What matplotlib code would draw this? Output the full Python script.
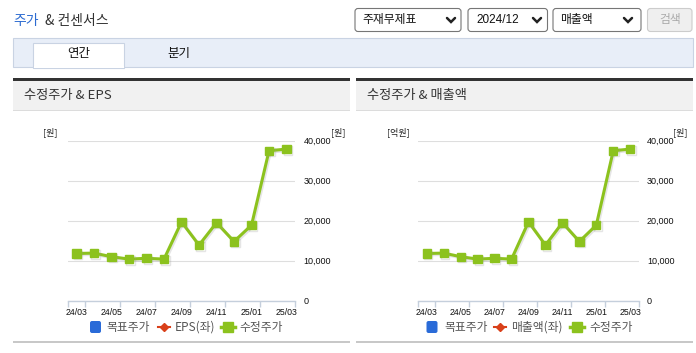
import matplotlib
matplotlib.use("Agg")
import matplotlib.pyplot as plt
import matplotlib.patheffects as pe
from matplotlib.patches import Rectangle, FancyBboxPatch
from matplotlib.ticker import FuncFormatter

plt.rcParams['font.family'] = ['Noto Sans CJK KR', 'DejaVu Sans']

# data
months = ['24/03', '24/04', '24/05', '24/06', '24/07', '24/08', '24/09',
          '24/10', '24/11', '24/12', '25/01', '25/02', '25/03']
price = [11800, 11900, 11000, 10400, 10600, 10400, 19700,
         13900, 19500, 14800, 18900, 37500, 37900]
yticks = [0, 10000, 20000, 30000, 40000]

W, H = 696, 353
GREEN = '#8cc21e'
RED = '#d9401a'
BLUE = '#2a6bd8'
NUM = ['Liberation Sans', 'DejaVu Sans']

fig = plt.figure(figsize=(W / 100, H / 100), dpi=100)
bg = fig.add_axes([0, 0, 1, 1])
bg.set_xlim(0, W)
bg.set_ylim(H, 0)
bg.axis('off')


def rect(x0, y0, x1, y1, fc, ec='none', lw=0, z=1):
    bg.add_patch(Rectangle((x0, y0), x1 - x0, y1 - y0, fc=fc, ec=ec, lw=lw, zorder=z))


def rbox(x0, y0, x1, y1, fc, ec):
    bg.add_patch(FancyBboxPatch((x0, y0), x1 - x0, y1 - y0,
                                boxstyle='round,pad=0,rounding_size=3',
                                fc=fc, ec=ec, lw=0.8, zorder=2))


def chevron(x, y):
    bg.plot([x - 4, x, x + 4], [y - 2, y + 2, y - 2], color='#222', lw=1.8,
            solid_capstyle='round', solid_joinstyle='miter', zorder=3)


# title
bg.text(13, 21, '주가', color='#2c6bd1', fontsize=10, va='center')
bg.text(45, 21, '& 컨센서스', color='#333333', fontsize=10, va='center')

# dropdowns
rbox(355, 8.5, 461, 31.5, 'white', '#767676')
bg.text(362, 20, '주재무제표', fontsize=8.5, va='center', color='#111')
chevron(451, 20)
rbox(468, 8.5, 547.5, 31.5, 'white', '#767676')
bg.text(476, 20, '2024/12', fontsize=8.5, va='center', color='#111', family=NUM)
chevron(537, 20)
rbox(553, 8.5, 641, 31.5, 'white', '#767676')
bg.text(560, 20, '매출액', fontsize=8.5, va='center', color='#111')
chevron(628, 20)
rbox(647.5, 8.5, 692, 31.5, '#efefef', '#cccccc')
bg.text(670, 20, '검색', fontsize=8.5, va='center', ha='center', color='#aaaaaa')

# tab bar
rect(13, 38, 693, 67, '#e8eef8', '#c9d3e3', 0.8)
rect(33, 43, 124, 67.6, 'white', '#c9d3e3', 0.8, z=2)
rect(33.5, 66, 123.5, 68, 'white', z=3)
bg.text(79, 54, '연간', fontsize=9, ha='center', va='center', color='#111', zorder=4)
bg.text(179, 54, '분기', fontsize=9, ha='center', va='center', color='#111', zorder=4)

# panels
for x0, x1, title in [(13, 350, '수정주가 & EPS'), (356, 693, '수정주가 & 매출액')]:
    rect(x0, 80, x1, 110, '#f1f1f1')
    rect(x0, 78, x1, 80.5, '#333333', z=2)
    rect(x0, 109.5, x1, 110.5, '#dcdcdc', z=2)
    rect(x0, 340.5, x1, 343, '#c8c8c8', z=2)
    bg.text(x0 + 11, 96, title, fontsize=9.5, va='center', color='#333333')


def chart(x0, x1, units, legend):
    top, bot = 140.7, 300.7
    ax = fig.add_axes([x0 / W, (H - bot) / H, (x1 - x0) / W, (bot - top) / H])
    ax.set_facecolor('none')
    ax.plot(range(len(months)), price, color=GREEN, lw=2.2, marker='s', ms=6,
            clip_on=False, zorder=3,
            path_effects=[pe.SimpleLineShadow(offset=(1, -1), shadow_color='#999', alpha=0.25),
                          pe.Normal()])
    ax.set_xlim(-0.5, len(months) - 0.5)
    ax.set_ylim(0, 40000)
    for s in ['top', 'left', 'right']:
        ax.spines[s].set_visible(False)
    ax.spines['bottom'].set_color('#c5cfdc')
    ax.spines['bottom'].set_linewidth(1)
    ax.set_yticks(yticks)
    ax.yaxis.tick_right()
    ax.yaxis.set_major_formatter(FuncFormatter(lambda v, p: f'{int(v):,}'))
    ax.tick_params(axis='y', length=0, pad=6, labelsize=6.5, labelcolor='#111')
    for lab in ax.get_yticklabels():
        lab.set_family(NUM)
    ax.grid(axis='y', color='#dedede', lw=0.8)
    ax.set_xticks(range(0, len(months), 2))
    ax.set_xticklabels(months[::2])
    ax.tick_params(axis='x', length=0, pad=5, labelsize=6.3, labelcolor='#111')
    for lab in ax.get_xticklabels():
        lab.set_family(NUM)
    ax.set_xticks([0.5, 2.5, 4.5, 6.5, 8.5, 10.5, -0.5, 12.5], minor=True)
    ax.tick_params(axis='x', which='minor', length=4, color='#c5cfdc', width=1)

    # unit labels
    bg.text(units[0][0], 132, units[0][1], fontsize=6.5, ha='center', va='center', color='#222')
    bg.text(units[1][0], 132, units[1][1], fontsize=6.5, ha='center', va='center', color='#222')

    # legend
    (bx, tx1), (rx, tx2, lab2), (gx, tx3) = legend
    ly = 327
    bg.add_patch(FancyBboxPatch((bx, ly - 6), 11, 12, boxstyle='round,pad=0,rounding_size=2',
                                fc=BLUE, ec='none'))
    bg.text(tx1, ly, '목표주가', fontsize=8.5, va='center', color='#555')
    bg.plot([rx - 6, rx + 6], [ly, ly], color=RED, lw=1.5)
    bg.plot([rx], [ly], marker='D', ms=4, color=RED)
    bg.text(tx2, ly, lab2, fontsize=8.5, va='center', color='#555')
    bg.plot([gx - 7, gx + 7], [ly, ly], color=GREEN, lw=2.5)
    bg.plot([gx], [ly], marker='s', ms=6.5, color=GREEN)
    bg.text(tx3, ly, '수정주가', fontsize=8.5, va='center', color='#555')


chart(67.7, 295.3, [(50, '[원]'), (338, '[원]')],
      [(90, 106), (164, 175, 'EPS(좌)'), (228, 239)])
chart(418.3, 638.7, [(398, '[억원]'), (680, '[원]')],
      [(426.5, 444), (500, 511, '매출액(좌)'), (577, 589)])

fig.savefig('out.png', dpi=100)
